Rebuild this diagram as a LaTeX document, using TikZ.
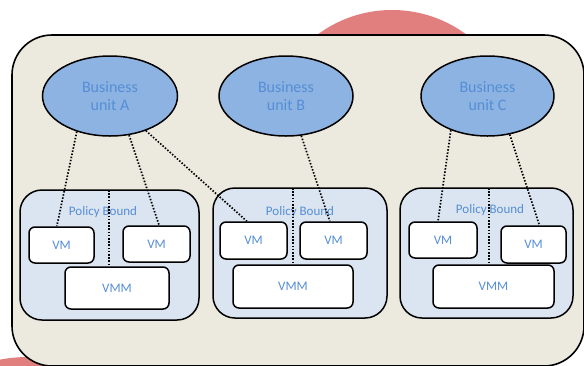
\documentclass[tikz,border=0pt]{standalone}
\usepackage{fontspec}
\setmainfont{Carlito}
\usetikzlibrary{shapes.geometric}
\definecolor{blobred}{HTML}{E07F7E}
\definecolor{hostbg}{HTML}{ECEADF}
\definecolor{boundbg}{HTML}{DBE5F1}
\definecolor{unitblue}{HTML}{8DB3E2}
\definecolor{labelblue}{HTML}{558ED5}
\begin{document}
\begin{tikzpicture}[
		x=1pt, y=-1pt,
		unit/.style={ellipse, draw, line width=1.5pt, fill=unitblue, text=labelblue,
				align=center, inner sep=0pt, minimum height=80pt,
				font=\fontsize{16}{18}\selectfont},
		bound/.style={draw, line width=1.5pt, fill=boundbg, rounded corners=22pt,
				minimum height=130pt, inner sep=0pt},
		vmbox/.style={draw, line width=1.5pt, fill=white, rounded corners=6pt,
				text=labelblue, inner sep=0pt, font=\fontsize{13}{15}\selectfont},
		boundtext/.style={text=labelblue, inner sep=0pt, font=\fontsize{13}{15}\selectfont},
		link/.style={line width=1.7pt, dash pattern=on 1.5pt off 1.7pt},
	]
	\useasboundingbox (0,0) rectangle (584,365);
	% background blobs
	\fill[blobred] (392,135) circle[radius=125pt];
	\fill[blobred] (28,507) circle[radius=150pt];
	% host frame
	\draw[line width=1.6pt, fill=hostbg, rounded corners=40pt] (12,35) rectangle (584,366);
	% business units
	\node[unit, minimum width=135pt] (unitA) at (110,96) {Business\\unit A};
	\node[unit, minimum width=134pt] (unitB) at (286,96) {Business\\unit B};
	\node[unit, minimum width=133pt] (unitC) at (487.5,96) {Business\\unit C};
	% policy bounds
	\node[bound, minimum width=179pt] (pbA) at (109.5,255) {};
	\node[bound, minimum width=174pt] (pbB) at (300,253) {};
	\node[bound, minimum width=173pt] (pbC) at (486.5,253) {};
	\node[boundtext] (pbAtext) at (103,212) {Policy Bound};
	\node[boundtext] (pbBtext) at (300,212) {Policy Bound};
	\node[boundtext] (pbCtext) at (490,210) {Policy Bound};
	% machines
	\node[vmbox, minimum width=65pt, minimum height=36pt] (vmAa) at (61.5,245) {VM};
	\node[vmbox, minimum width=67pt, minimum height=36pt] (vmAb) at (156.5,244) {VM};
	\node[vmbox, minimum width=104pt, minimum height=42pt] (vmmA) at (117,288) {VMM};
	\node[vmbox, minimum width=67pt, minimum height=37pt] (vmBa) at (253.5,240.5) {VM};
	\node[vmbox, minimum width=67pt, minimum height=37pt] (vmBb) at (333.5,240.5) {VM};
	\node[vmbox, minimum width=120pt, minimum height=43pt] (vmmB) at (293,286.5) {VMM};
	\node[vmbox, minimum width=68pt, minimum height=36pt] (vmCa) at (443,240) {VM};
	\node[vmbox, minimum width=65pt, minimum height=37pt] (vmCb) at (533.5,244.5) {VM};
	\node[vmbox, minimum width=121pt, minimum height=43pt] (vmmC) at (493.5,286.5) {VMM};
	% separators
	\coordinate (sepA) at (109,190);
	\coordinate (sepB) at (293,188);
	\coordinate (sepC) at (489,188);
	\draw[link] (sepA) -- (sepA |- vmmA.north);
	\draw[link] (sepB) -- (sepB |- vmmB.north);
	\draw[link] (sepC) -- (sepC |- vmmC.north);
	% ownership links
	\draw[link] (unitA.227) -- (vmAa.104);
	\draw[link] (unitA.296) -- (vmAb.82);
	\draw[link] (unitA.316) -- (vmBa.109);
	\draw[link] (unitB.291) -- (vmBb.101);
	\draw[link] (unitC.223) -- (vmCa.105);
	\draw[link] (unitC.300) -- (vmCb.73);
\end{tikzpicture}
\end{document}
